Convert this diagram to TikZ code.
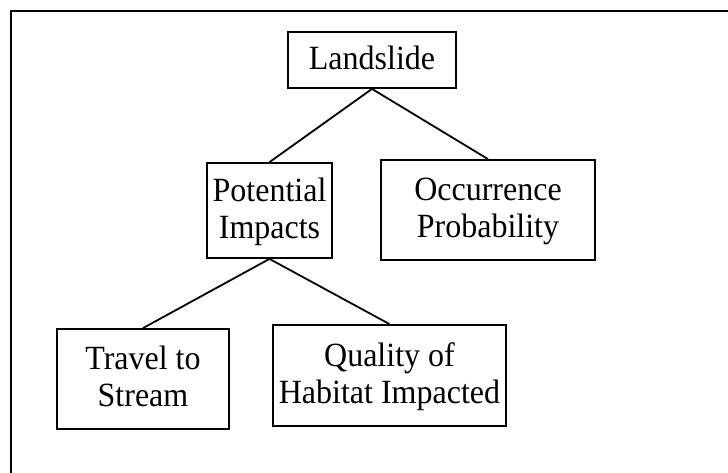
\documentclass[tikz,border=0pt]{standalone}
\usepackage{fontspec}
\setmainfont{Liberation Serif}
% box labels: centred lines, set slightly taller than wide
\newcommand\boxlabel[1]{\raisebox{-2pt}[\height][\depth]{\scalebox{1}[1.06]{\fontsize{32}{35}\selectfont\begin{tabular}{@{}c@{}}#1\end{tabular}}}}
\begin{document}
\begin{tikzpicture}[x=1pt,y=-1pt,
  box/.style={draw=black, line width=1.8pt, fill=white, inner sep=0pt, align=center},
  link/.style={draw=black, line width=1.8pt}]
  \useasboundingbox (0,0) rectangle (728,472);
  % outer frame (only its top and left sides fall inside the page)
  \draw[line width=2pt] (11,480) -- (11,11) -- (740,11);
  % boxes
  \node[box, minimum width=168pt, minimum height=56pt]  (land) at (372,60)      {\boxlabel{Landslide}};
  \node[box, minimum width=125pt, minimum height=95pt]  (pot)  at (269.5,210.5) {\boxlabel{Potential\\Impacts}};
  \node[box, minimum width=214pt, minimum height=100pt] (occ)  at (488,210)     {\boxlabel{Occurrence\\Probability}};
  \node[box, minimum width=172pt, minimum height=100pt] (trav) at (143,379)     {\boxlabel{Travel to\\Stream}};
  \node[box, minimum width=233pt, minimum height=101pt] (qual) at (389.5,375.5) {\boxlabel{Quality of\\Habitat Impacted}};
  % connectors
  \draw[link] (land.south) -- (pot.north);
  \draw[link] (land.south) -- (occ.north);
  \draw[link] (pot.south) -- (trav.north);
  \draw[link] (pot.south) -- (qual.north);
\end{tikzpicture}
\end{document}
